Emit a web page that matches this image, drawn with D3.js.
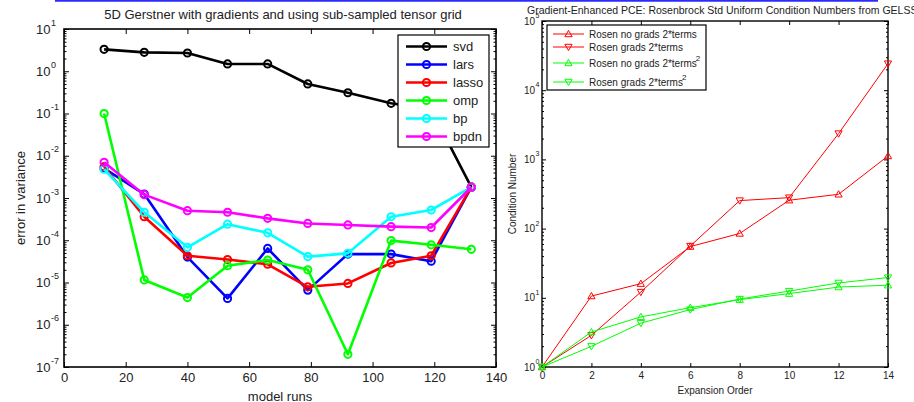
<!DOCTYPE html>
<html><head><meta charset="utf-8">
<script src="https://cdn.jsdelivr.net/npm/d3@7"></script>
<style>body{margin:0;background:#fff} svg{display:block} text{font-family:Arial,"Liberation Sans",Helvetica,sans-serif;fill:#222}</style>
</head><body><svg id="c" width="914" height="402"></svg>
<script>
// ---------- Left chart data ----------
const leftTitle = "5D Gerstner with gradients and using sub-sampled tensor grid";
const runs = [13, 26, 40, 53, 66, 79, 92, 106, 119, 132];
const svd   = [3.3, 2.8, 2.7, 1.49, 1.49, 0.5, 0.31, 0.174, 0.124, 0.0018];
const lars  = [5.0e-3, 1.24e-3, 4.0e-5, 4.2e-6, 6.4e-5, 6.6e-6, 4.7e-5, 4.7e-5, 3.2e-5, 0.0018];
const lasso = [5.5e-3, 3.6e-4, 4.3e-5, 3.5e-5, 2.7e-5, 7.9e-6, 9.5e-6, 2.9e-5, 4.3e-5, 0.0018];
const omp   = [0.1, 1.15e-5, 4.4e-6, 2.5e-5, 3.4e-5, 2.0e-5, 2.0e-7, 9.8e-5, 7.8e-5, 6.1e-5];
const bp    = [4.8e-3, 4.6e-4, 6.8e-5, 2.4e-4, 1.5e-4, 4.1e-5, 4.9e-5, 3.6e-4, 5.2e-4, 0.0018];
const bpdn  = [7.0e-3, 1.2e-3, 5.0e-4, 4.6e-4, 3.3e-4, 2.5e-4, 2.3e-4, 2.1e-4, 2.0e-4, 0.0018];
const leftNames = ["svd", "lars", "lasso", "omp", "bp", "bpdn"];
const leftColors = ["#000000", "#0000ff", "#ff0000", "#00ff00", "#00ffff", "#ff00ff"];
const leftXTicks = [0, 20, 40, 60, 80, 100, 120, 140];
const leftYExp = [-7, -6, -5, -4, -3, -2, -1, 0, 1];

// ---------- Right chart data ----------
const rightTitle = "Gradient-Enhanced PCE: Rosenbrock Std Uniform Condition Numbers from GELSS";
const order = [0, 2, 4, 6, 8, 10, 12, 14];
const noGrads2 = [1, 10.6, 16, 55, 85, 257, 313, 1120];
const grads2   = [1, 2.87, 12.1, 56, 254, 280, 2360, 24200];
const noGradsSq = [1, 3.2, 5.3, 7.2, 9.4, 11.5, 14.3, 15.2];
const gradsSq   = [1, 1.99, 4.3, 6.75, 9.6, 12.5, 16.4, 19.6];
const rightNames = ["Rosen no grads 2*terms", "Rosen grads 2*terms", "Rosen no grads 2*terms", "Rosen grads 2*terms"];
const rightSup = ["", "", "2", "2"];
const rightColors = ["#ff0000", "#ff0000", "#00ff00", "#00ff00"];
const rightMarkers = ["up", "down", "up", "down"];
const rightXTicks = [0, 2, 4, 6, 8, 10, 12, 14];
const rightYExp = [0, 1, 2, 3, 4, 5];

const svg = d3.select("#c");

// top blue rule
svg.append("line").attr("x1", 55).attr("x2", 878).attr("y1", 0.8).attr("y2", 0.8)
  .attr("stroke", "#2b2bff").attr("stroke-width", 2);

function frame(g, x, y, xt, opts) {
  const [x0, x1] = x.range(), [y0, y1] = y.range();
  const all = y.ticks();
  const majors = all.filter(v => Math.abs(Math.log10(v) - Math.round(Math.log10(v))) < 1e-9);
  const minors = all.filter(v => !majors.includes(v));
  g.append("g").attr("transform", `translate(${x0},0)`)
    .call(d3.axisLeft(y).tickValues(majors).tickSizeInner(-opts.major).tickSizeOuter(0).tickFormat(""));
  g.append("g").attr("transform", `translate(${x0},0)`)
    .call(d3.axisLeft(y).tickValues(minors).tickSizeInner(-opts.minor).tickSizeOuter(0).tickFormat(""));
  g.append("g").attr("transform", `translate(${x1},0)`)
    .call(d3.axisRight(y).tickValues(majors).tickSizeInner(-opts.major).tickSizeOuter(0).tickFormat(""));
  g.append("g").attr("transform", `translate(${x1},0)`)
    .call(d3.axisRight(y).tickValues(minors).tickSizeInner(-opts.minor).tickSizeOuter(0).tickFormat(""));
  const axB = g.append("g").attr("transform", `translate(0,${y0})`)
    .call(d3.axisBottom(x).tickValues(xt).tickSizeInner(-opts.major).tickSizeOuter(0).tickPadding(opts.xpad));
  g.append("g").attr("transform", `translate(0,${y1})`)
    .call(d3.axisTop(x).tickValues(xt).tickSizeInner(-opts.major).tickSizeOuter(0).tickFormat(""));
  g.selectAll(".domain").remove();
  g.selectAll(".tick line").attr("stroke", "#000").attr("stroke-width", 1);
  axB.selectAll("text").attr("font-size", opts.fs).attr("fill", "#222")
    .attr("font-family", "Arial, 'Liberation Sans', sans-serif");
  g.append("rect").attr("x", x0).attr("y", y1).attr("width", x1 - x0).attr("height", y0 - y1)
    .attr("fill", "none").attr("stroke", "#000").attr("stroke-width", opts.bw);
  opts.exps.forEach(e => {
    const py = y(Math.pow(10, e));
    g.append("text").attr("x", opts.lx).attr("y", py + opts.fs * 0.36).attr("text-anchor", "end")
      .attr("font-size", opts.fs).text("10");
    g.append("text").attr("x", opts.lx + 0.5).attr("y", py - opts.supDy).attr("font-size", opts.sfs).text(e);
  });
}

// ---------- Left chart ----------
const xL = d3.scaleLinear().domain([0, 140]).range([64, 496]);
const yL = d3.scaleLog().domain([1e-7, 10]).range([367, 29]);
const gL = svg.append("g");
frame(gL, xL, yL, leftXTicks, {major: 5, minor: 2.5, fs: 13, sfs: 9, supDy: 3.5, lx: 50.5, xpad: 6, bw: 1.6, exps: leftYExp});

const leftSeries = [svd, lars, lasso, omp, bp, bpdn];
const lineL = d3.line().x(d => xL(d[0])).y(d => yL(d[1]));
leftSeries.forEach((s, i) => {
  const pts = runs.map((r, j) => [r, s[j]]);
  gL.append("path").attr("d", lineL(pts)).attr("fill", "none").attr("stroke", leftColors[i]).attr("stroke-width", 2.6)
    .attr("stroke-linejoin", "round");
  gL.selectAll(null).data(pts).enter().append("circle")
    .attr("cx", d => xL(d[0])).attr("cy", d => yL(d[1])).attr("r", 3.6)
    .attr("fill", "none").attr("stroke", leftColors[i]).attr("stroke-width", 2);
});

gL.append("text").attr("x", 283).attr("y", 18.5).attr("text-anchor", "middle").attr("font-size", 13).text(leftTitle);
gL.append("text").attr("x", 280).attr("y", 401).attr("text-anchor", "middle").attr("font-size", 13).text("model runs");
gL.append("text").attr("transform", "translate(25,198) rotate(-90)").attr("text-anchor", "middle").attr("font-size", 13).text("error in variance");

const lgL = gL.append("g");
lgL.append("rect").attr("x", 398).attr("y", 35).attr("width", 91).attr("height", 112)
  .attr("fill", "#fff").attr("stroke", "#000").attr("stroke-width", 1.2);
leftNames.forEach((n, i) => {
  const yy = 46.5 + i * 18;
  lgL.append("line").attr("x1", 406).attr("x2", 447).attr("y1", yy).attr("y2", yy)
    .attr("stroke", leftColors[i]).attr("stroke-width", 2.6);
  lgL.append("circle").attr("cx", 426.5).attr("cy", yy).attr("r", 3.6).attr("fill", "none")
    .attr("stroke", leftColors[i]).attr("stroke-width", 2);
  lgL.append("text").attr("x", 453).attr("y", yy + 4.7).attr("font-size", 13).text(n);
});

// ---------- Right chart ----------
const xR = d3.scaleLinear().domain([0, 14]).range([542, 888]);
const yR = d3.scaleLog().domain([1, 1e5]).range([367, 21]);
const gR = svg.append("g");
frame(gR, xR, yR, rightXTicks, {major: 4, minor: 2, fs: 10, sfs: 7, supDy: 3, lx: 535, xpad: 5, bw: 1.4, exps: rightYExp});

function tri(cx, cy, dir, s) {
  const h = s;
  if (dir === "up") return `M${cx},${cy - h}L${cx + h},${cy + h * 0.75}L${cx - h},${cy + h * 0.75}Z`;
  return `M${cx},${cy + h}L${cx + h},${cy - h * 0.75}L${cx - h},${cy - h * 0.75}Z`;
}
const rightSeries = [noGrads2, grads2, noGradsSq, gradsSq];
const lineR = d3.line().x(d => xR(d[0])).y(d => yR(d[1]));
rightSeries.forEach((s, i) => {
  const pts = order.map((o, j) => [o, s[j]]);
  gR.append("path").attr("d", lineR(pts)).attr("fill", "none").attr("stroke", rightColors[i]).attr("stroke-width", 1);
  gR.selectAll(null).data(pts).enter().append("path")
    .attr("d", d => tri(xR(d[0]), yR(d[1]), rightMarkers[i], 3.6))
    .attr("fill", "none").attr("stroke", rightColors[i]).attr("stroke-width", 1);
});

gR.append("text").attr("x", 527).attr("y", 13.5).attr("font-size", 10.5).text(rightTitle);
gR.append("text").attr("x", 715).attr("y", 394).attr("text-anchor", "middle").attr("font-size", 10).text("Expansion Order");
gR.append("text").attr("transform", "translate(515.5,194) rotate(-90)").attr("text-anchor", "middle").attr("font-size", 10).text("Condition Number");

const lgR = gR.append("g");
lgR.append("rect").attr("x", 547).attr("y", 25).attr("width", 159).attr("height", 65)
  .attr("fill", "#fff").attr("stroke", "#000").attr("stroke-width", 1.2);
const legYs = [34, 47, 63, 82];
rightNames.forEach((n, i) => {
  const yy = legYs[i];
  lgR.append("line").attr("x1", 553).attr("x2", 584).attr("y1", yy).attr("y2", yy)
    .attr("stroke", rightColors[i]).attr("stroke-width", 1);
  lgR.append("path").attr("d", tri(568.5, yy, rightMarkers[i], 3.6)).attr("fill", "none")
    .attr("stroke", rightColors[i]).attr("stroke-width", 1);
  const t = lgR.append("text").attr("x", 589).attr("y", yy + 3.5).attr("font-size", 10).text(n);
  if (rightSup[i]) lgR.append("text").attr("x", 589 + t.node().getComputedTextLength() - 1).attr("y", yy - 2.5)
    .attr("font-size", 8).text(rightSup[i]);
});
</script></body></html>
